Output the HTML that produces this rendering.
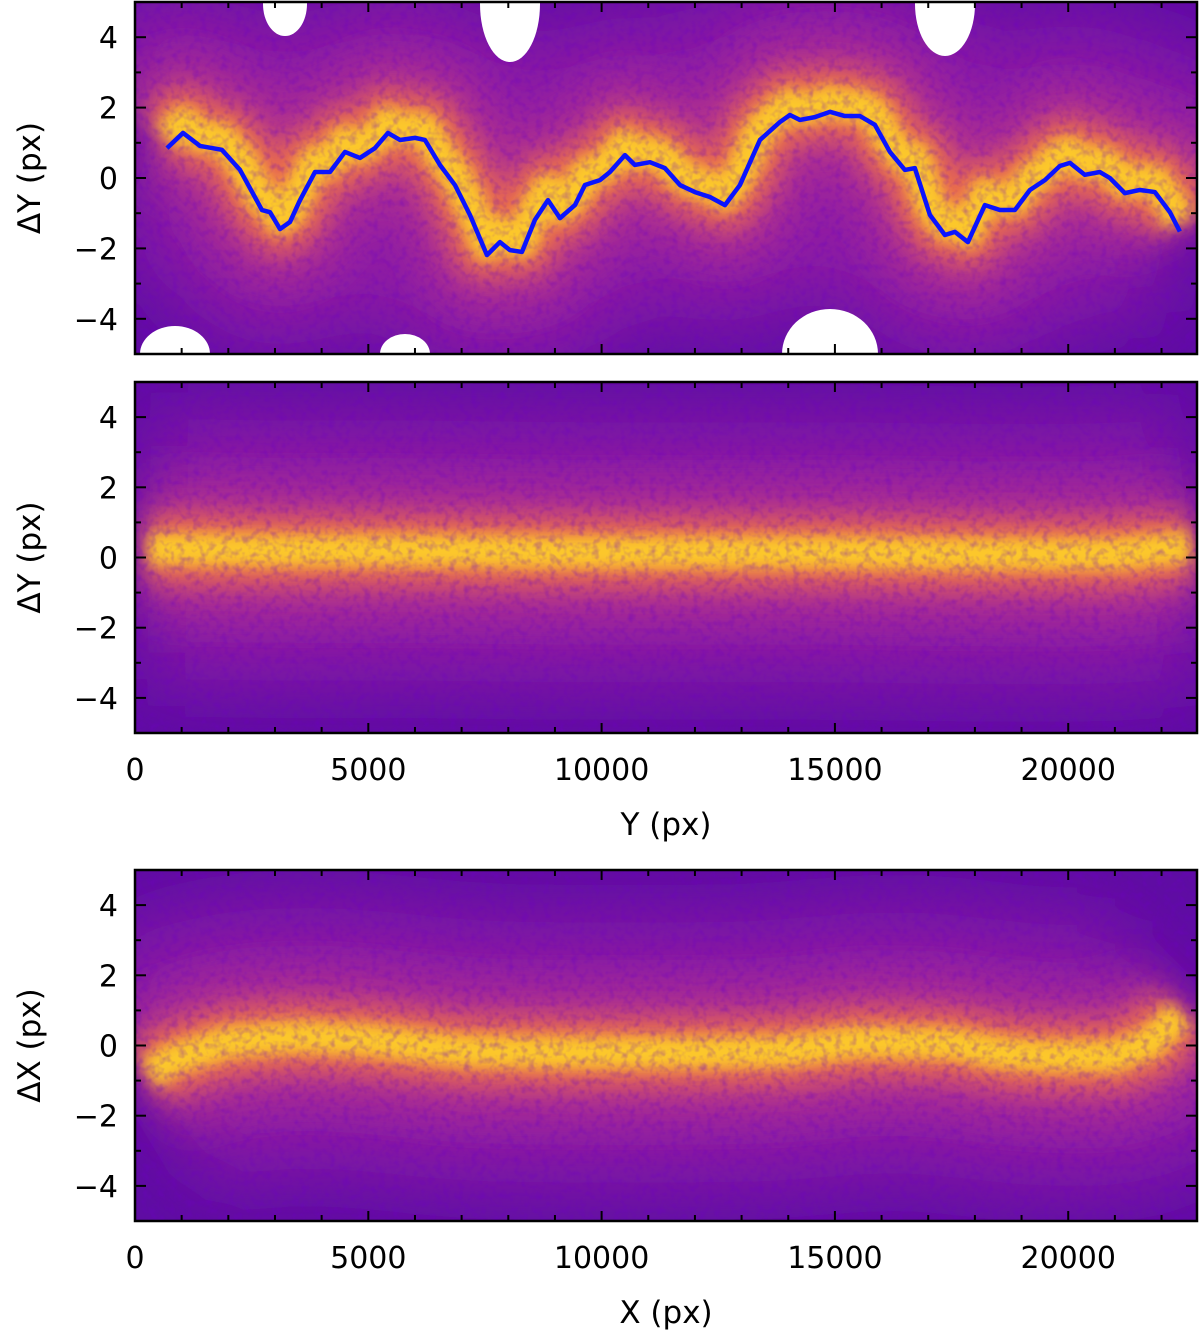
<!DOCTYPE html>
<html><head><meta charset="utf-8">
<style>
html,body{margin:0;padding:0;background:#fff;}
svg{display:block;font-family:"DejaVu Sans","Liberation Sans",sans-serif;}
</style></head>
<body>
<svg id="chart" width="1200" height="1331" viewBox="0 0 1200 1331" xmlns="http://www.w3.org/2000/svg">
<defs>
<filter id="blurHuge" filterUnits="userSpaceOnUse" x="0" y="0" width="1200" height="1331"><feGaussianBlur stdDeviation="40"/></filter>
<filter id="blurBig" filterUnits="userSpaceOnUse" x="0" y="0" width="1200" height="1331"><feGaussianBlur stdDeviation="22"/></filter>
<filter id="blurMid" filterUnits="userSpaceOnUse" x="0" y="0" width="1200" height="1331"><feGaussianBlur stdDeviation="13"/></filter>
<filter id="blurSm" filterUnits="userSpaceOnUse" x="0" y="0" width="1200" height="1331"><feGaussianBlur stdDeviation="7"/></filter>
<filter id="noise" x="0" y="0" width="100%" height="100%">
<feTurbulence type="fractalNoise" baseFrequency="0.14" numOctaves="2" seed="3"/>
<feColorMatrix values="0 0 0 0 0.15  0 0 0 0 0  0 0 0 0 0.55  0 0 0 1.8 -0.8"/>
</filter>
</defs>
</svg>
<script>
// ---- data ----
const xDomain = [0, 22760];
const yDomain = [-5, 5];
const xTicks = [0, 5000, 10000, 15000, 20000];
const yTicks = [-4, -2, 0, 2, 4];
// panel 1: running median of ΔY vs Y
const medianY = [686,1029,1393,1864,2250,2721,2893,3107,3321,3536,3857,4179,4500,4821,5143,5421,5679,6000,6214,6536,6857,7179,7543,7821,8036,8293,8571,8850,9107,9429,9643,9964,10179,10500,10714,11036,11357,11679,12000,12321,12643,12964,13393,13821,14036,14250,14571,14893,15214,15536,15857,16179,16500,16714,17036,17357,17571,17850,18214,18536,18857,19179,19500,19821,20036,20357,20679,20893,21214,21536,21857,22179,22393];
const medianDY = [0.85,1.28,0.91,0.8,0.23,-0.91,-0.97,-1.45,-1.25,-0.63,0.17,0.17,0.74,0.57,0.85,1.28,1.08,1.14,1.08,0.37,-0.2,-1.05,-2.19,-1.82,-2.05,-2.1,-1.19,-0.63,-1.14,-0.77,-0.2,-0.06,0.17,0.65,0.37,0.45,0.28,-0.2,-0.4,-0.54,-0.77,-0.2,1.08,1.59,1.79,1.65,1.73,1.88,1.76,1.76,1.51,0.74,0.23,0.28,-1.05,-1.62,-1.53,-1.82,-0.77,-0.91,-0.91,-0.34,-0.06,0.34,0.43,0.09,0.17,0,-0.43,-0.34,-0.4,-0.97,-1.52];
// panel 2: corrected band centre
const band2X = [300,3000,6000,9000,12000,15000,18000,21000,22600];
const band2Y = [0.25,0.2,0.2,0.15,0.15,0.15,0.1,0.1,0.3];
// panel 3: ΔX band centre vs X
const band3X = [300,800,2000,3500,5000,7000,9000,12000,14000,15500,17500,18500,19500,21000,21800,22400];
const band3Y = [-0.8,-0.4,0.1,0.25,0.15,-0.15,-0.2,-0.2,-0.15,0.1,0.05,-0.2,-0.3,-0.3,0.1,0.9];

const NS = "http://www.w3.org/2000/svg";
const svg = document.getElementById('chart');
function mk(tag, attrs, parent){const e=document.createElementNS(NS,tag);for(const k in attrs)e.setAttribute(k,attrs[k]);(parent||svg).appendChild(e);return e;}

const X0=135, X1=1197;
const panels=[
 {top:2,bottom:354,ylabel:"ΔY (px)",xlabel:null,bx:medianY,by:medianDY,line:true,name:"panel-raw-dy"},
 {top:382,bottom:733,ylabel:"ΔY (px)",xlabel:"Y (px)",bx:band2X,by:band2Y,line:false,name:"panel-corrected-dy"},
 {top:870,bottom:1221,ylabel:"ΔX (px)",xlabel:"X (px)",bx:band3X,by:band3Y,line:false,name:"panel-dx"}
];
function xs(v){return X0+(v-xDomain[0])/(xDomain[1]-xDomain[0])*(X1-X0);}

panels.forEach((p,pi)=>{
 const ys=v=>p.bottom-(v-yDomain[0])/(yDomain[1]-yDomain[0])*(p.bottom-p.top);
 const g=mk('g',{});
 
 
 const cid='clip'+pi;
 const cp=mk('clipPath',{id:cid},svg.querySelector('defs'));
 mk('rect',{x:X0,y:p.top,width:X1-X0,height:p.bottom-p.top},cp);
 const inner=mk('g',{'clip-path':'url(#'+cid+')'},g);
 const bg=mk('rect',{x:X0,y:p.top,width:X1-X0,height:p.bottom-p.top,fill:'#5e0ca3'},inner);
 
 
 const off = p.line?0.3:0;
 const pts=p.bx.map((v,i)=>xs(v)+','+ys(p.by[i]+off)).join(' ');
 mk('polyline',{points:pts,fill:'none',stroke:'#8f1ba4','stroke-width':260,'stroke-linejoin':'round',filter:'url(#blurHuge)'},inner);
 mk('polyline',{points:pts,fill:'none',stroke:'#b3338e','stroke-width':130,'stroke-linejoin':'round',filter:'url(#blurBig)',opacity:0.9},inner);
 mk('polyline',{points:pts,fill:'none',stroke:'#e8694f','stroke-width':70,'stroke-linejoin':'round',filter:'url(#blurMid)'},inner);
 mk('polyline',{points:pts,fill:'none',stroke:'#fcc82a','stroke-width':32,'stroke-linejoin':'round',filter:'url(#blurSm)'},inner);
 mk('rect',{x:X0,y:p.top,width:X1-X0,height:p.bottom-p.top,filter:'url(#noise)',opacity:0.45},inner);
 if(pi===0){
  [[285,4,22,32],[510,4,30,58],[945,4,30,52],[175,p.bottom,35,28],[405,p.bottom,25,20],[830,p.bottom,48,45]].forEach(b=>{
   const e=mk('ellipse',{cx:b[0],cy:b[1],rx:b[2],ry:b[3],fill:'#fff'},inner);
   
   
  });
 }
 if(p.line){
  const l=mk('polyline',{points:p.bx.map((v,i)=>xs(v)+','+ys(p.by[i])).join(' '),fill:'none',stroke:'#0a14ff','stroke-width':4.5,'stroke-linejoin':'round'},g);
  
  
 }
 const fr=mk('rect',{x:X0,y:p.top,width:X1-X0,height:p.bottom-p.top,fill:'none',stroke:'#000','stroke-width':2.5},g);
 
 
 for(let v=0;v<=22000;v+=1000){
  const x=xs(v), L=(v%5000===0)?10:6;
  mk('line',{x1:x,x2:x,y1:p.bottom,y2:p.bottom-L,stroke:'#000','stroke-width':2},g);
  mk('line',{x1:x,x2:x,y1:p.top,y2:p.top+L,stroke:'#000','stroke-width':2},g);
 }
 for(let v=-5;v<=5;v+=1){
  const y=ys(v), L=(v%2===0)?11:6;
  mk('line',{x1:X0,x2:X0+L,y1:y,y2:y,stroke:'#000','stroke-width':2},g);
  mk('line',{x1:X1,x2:X1-L,y1:y,y2:y,stroke:'#000','stroke-width':2},g);
 }
 yTicks.forEach(v=>{
  const t=mk('text',{x:118,y:ys(v)+11,'text-anchor':'end','font-size':30,fill:'#000'},g);
  t.textContent=(v<0?'\u2212':'')+Math.abs(v);
  
  
 });
 const yl=mk('text',{x:0,y:0,'text-anchor':'middle','font-size':31,fill:'#000',transform:'translate(40,'+((p.top+p.bottom)/2)+') rotate(-90)'},g);
 yl.textContent=p.ylabel;
 
 
 if(p.xlabel){
  xTicks.forEach(v=>{
   const t=mk('text',{x:xs(v),y:p.bottom+47,'text-anchor':'middle','font-size':30,fill:'#000'},g);
   t.textContent=v;
   
   
  });
  const xl=mk('text',{x:(X0+X1)/2,y:p.bottom+102,'text-anchor':'middle','font-size':31,fill:'#000'},g);
  xl.textContent=p.xlabel;
  
  
 }
});
</script>
</body></html>
